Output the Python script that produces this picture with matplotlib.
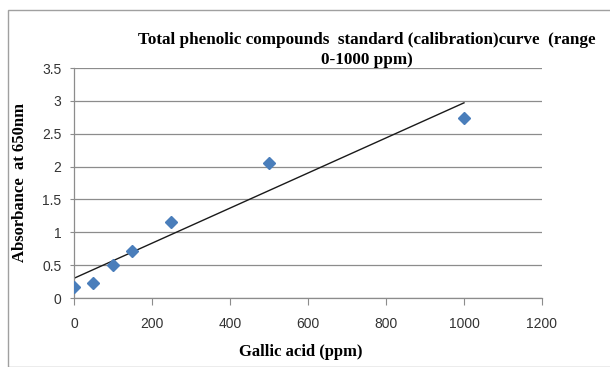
import matplotlib.pyplot as plt
import matplotlib.patches as patches
import numpy as np

# calibration data
gallic_ppm = [0, 50, 100, 150, 250, 500, 1000]
absorbance = [0.17, 0.23, 0.50, 0.71, 1.16, 2.05, 2.74]

# linear trend line as drawn (intercept / slope)
trend_intercept = 0.30
trend_slope = 0.00267
trend_x = [0, 1000]

x_ticks = [0, 200, 400, 600, 800, 1000, 1200]
y_ticks = [0, 0.5, 1, 1.5, 2, 2.5, 3, 3.5]
y_tick_labels = ['0', '0.5', '1', '1.5', '2', '2.5', '3', '3.5']

fig = plt.figure(figsize=(6.1, 3.67), dpi=100)
ax = fig.add_axes([0.1213, 0.188, 0.7672, 0.6267])

# outer chart frame
fig.patches.append(patches.Rectangle((8 / 610, 0), 1.2, 1 - 10 / 367, transform=fig.transFigure,
                                     fill=False, edgecolor='#a0a0a0', linewidth=1))

ax.set_axisbelow(True)
ax.grid(axis='y', color='#8c8c8c', linewidth=0.9)

line_y = [trend_intercept + trend_slope * v for v in trend_x]
ax.plot(trend_x, line_y, color='#1a1a1a', linewidth=1)
ax.plot(gallic_ppm, absorbance, linestyle='none', marker='D', markersize=6.5,
        color='#4a7ebb', zorder=3)

ax.set_xlim(0, 1200)
ax.set_ylim(0, 3.5)
ax.set_xticks(x_ticks)
ax.set_yticks(y_ticks)
ax.set_yticklabels(y_tick_labels)

for s in ['top', 'right']:
    ax.spines[s].set_visible(False)
for s in ['left', 'bottom']:
    ax.spines[s].set_color('#8c8c8c')
    ax.spines[s].set_linewidth(0.9)

ax.tick_params(axis='x', direction='out', length=5, color='#8c8c8c', pad=9,
               labelsize=10, labelcolor='#333333')
ax.tick_params(axis='y', direction='out', length=3, color='#8c8c8c', pad=6,
               labelsize=10, labelcolor='#333333')
for lab in ax.get_xticklabels() + ax.get_yticklabels():
    lab.set_family('Liberation Sans')

fig.text(367 / 610, 1 - 40 / 367, 'Total phenolic compounds  standard (calibration)curve  (range',
         family='Liberation Serif', fontweight='bold', fontsize=12.3, ha='center', va='center')
fig.text(367 / 610, 1 - 60 / 367, '0-1000 ppm)',
         family='Liberation Serif', fontweight='bold', fontsize=12.3, ha='center', va='center')

fig.text(301 / 610, 1 - 352 / 367, 'Gallic acid (ppm)', family='Liberation Serif',
         fontweight='bold', fontsize=12, ha='center', va='center')
fig.text(20 / 610, 1 - 183 / 367, 'Absorbance  at 650nm', family='Liberation Serif',
         fontweight='bold', fontsize=12, ha='center', va='center', rotation=90)

fig.savefig('out.png', dpi=100)
